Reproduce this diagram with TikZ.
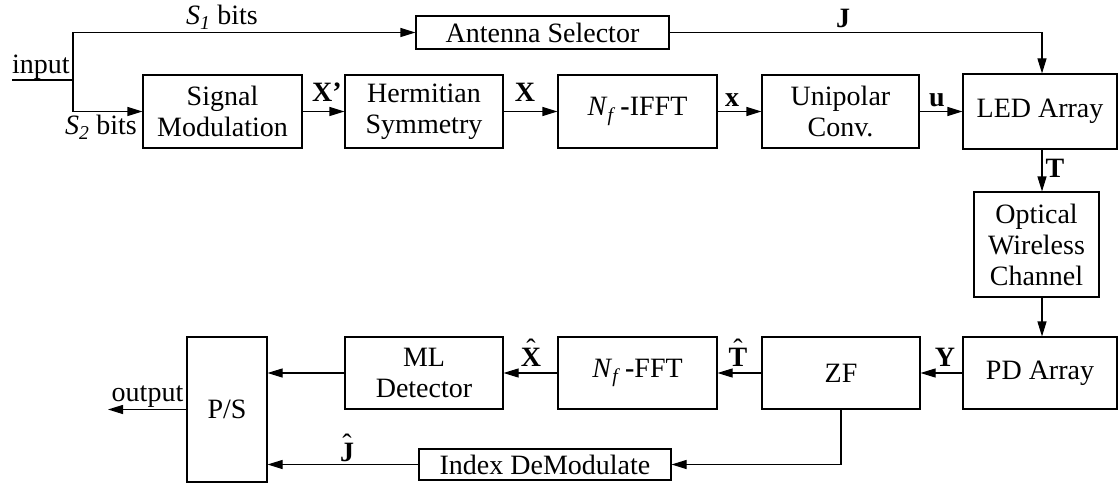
\documentclass[tikz,border=0pt]{standalone}
\usepackage{fontspec}
\setmainfont{Liberation Serif}
\usetikzlibrary{arrows.meta,calc}
\newcommand{\hatbold}[1]{\ooalign{\textbf{#1}\cr\hidewidth\raisebox{8pt}{\mdseries\char"02C6}\hidewidth\cr}}
\begin{document}
\begin{tikzpicture}[x=1pt,y=-1pt,
  box/.style={draw,line width=1.1pt,inner sep=0pt,align=center,font=\fontsize{28}{31}\selectfont},
  txt/.style={inner sep=0pt,font=\fontsize{28}{31}\selectfont},
  lbl/.style={inner sep=0pt,anchor=base,font=\fontsize{28}{31}\selectfont\bfseries},
  ln/.style={line width=1.1pt},
  arr/.style={line width=1.1pt,-{Triangle[length=15pt,width=9pt]}}]
\useasboundingbox (0,0) rectangle (1119,484);
% boxes
\node[box,minimum width=253pt,minimum height=33pt] (sel) at (542.5,32.5) {Antenna Selector};
\node[box,minimum width=159pt,minimum height=73pt] (sm) at (222.5,111.5) {Signal\\Modulation};
\node[box,minimum width=158pt,minimum height=73pt] (hs) at (424,111.5) {Hermitian\\Symmetry};
\node[box,minimum width=159pt,minimum height=73pt] (ifft) at (637.5,111.5) {\textit{N}\textsubscript{\textit{f}}\,\textbf{-}IFFT};
\node[box,minimum width=157pt,minimum height=73pt] (uc) at (840.5,111.5) {Unipolar\\Conv.};
\node[box,minimum width=154pt,minimum height=75pt] (led) at (1040,111.5) {LED Array};
\node[box,minimum width=125pt,minimum height=105pt] (owc) at (1036.5,244.5) {Optical\\Wireless\\Channel};
\node[box,minimum width=154pt,minimum height=72pt] (pd) at (1040,373) {PD Array};
\node[box,minimum width=158pt,minimum height=72pt] (zf) at (841,373) {ZF};
\node[box,minimum width=159pt,minimum height=72pt] (fft) at (637.5,373) {\textit{N}\textsubscript{\textit{f}}\,\textbf{-}FFT};
\node[box,minimum width=158pt,minimum height=72pt] (ml) at (424,373) {ML\\Detector};
\node[box,minimum width=80pt,minimum height=145pt] (ps) at (227,409.5) {P/S};
\node[box,minimum width=252pt,minimum height=31pt] (idm) at (545,464.5) {Index DeModulate};
% input / output
\coordinate (inS) at (12,80);
\coordinate (split) at (73,80);
\coordinate (outE) at (108,409.5);
\node[txt,anchor=base west] (inlbl) at (12,74) {input};
\node[txt,anchor=base] (outlbl) at (147.5,401) {output};
\draw[ln] (inS) -- (split);
\draw[arr] (split) |- (sel.west);
\draw[arr] (split) |- (sm.west);
\draw[arr] (ps.west) -- (outE);
% top chain
\draw[arr] (sm.east) -- (hs.west);
\draw[arr] (hs.east) -- (ifft.west);
\draw[arr] (ifft.east) -- (uc.west);
\draw[arr] (uc.east) -- (led.west);
\draw[arr] (sel.east) -| ([xshift=2pt]led.north);
\draw[arr] ([xshift=2pt]led.south) -- ([xshift=2pt]led.south |- owc.north);
\draw[arr] ([xshift=2pt]led.south |- owc.south) -- ([xshift=2pt]led.south |- pd.north);
% bottom chain
\draw[arr] (pd.west) -- (zf.east);
\draw[arr] (zf.west) -- (fft.east);
\draw[arr] (fft.west) -- (ml.east);
\draw[arr] (ml.west) -- (ml.west -| ps.east);
\draw[arr] (zf.south) |- (idm.east);
\draw[arr] (idm.west) -- (idm.west -| ps.east);
% labels
\node[txt,anchor=base] (s1) at (222,25) {\textit{S}\textsubscript{\textit{1}} bits};
\node[txt,anchor=base] (s2) at (101,135) {\textit{S}\textsubscript{\textit{2}} bits};
\node[lbl] (lXp) at (327,102) {X'};
\node[lbl] (lX) at (525,102) {X};
\node[lbl] (lx) at (732,107) {x};
\node[lbl] (lu) at (937,107) {u};
\node[lbl] (lJ) at (843,28) {J};
\node[lbl] (lT) at (1055,178) {T};
\node[lbl] (lY) at (945,366) {Y};
\node[lbl] (lTh) at (738,366) {\hatbold{T}};
\node[lbl] (lXh) at (531,366) {\hatbold{X}};
\node[lbl] (lJh) at (347,461) {\hatbold{J}};
\end{tikzpicture}
\end{document}
